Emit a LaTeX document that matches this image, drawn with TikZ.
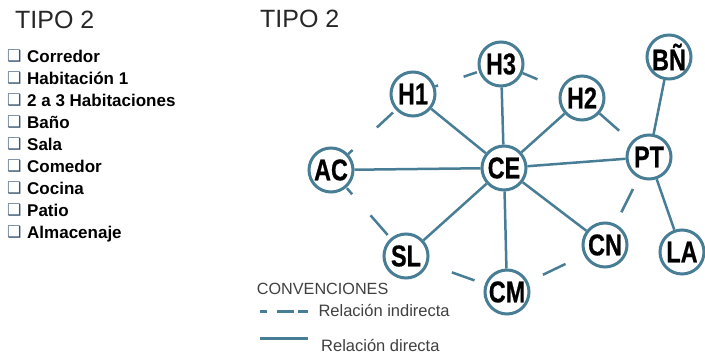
\documentclass[tikz,border=0pt]{standalone}
\usepackage{fontspec}
\setmainfont{Liberation Sans}
\newfontfamily\nodefont{Liberation Sans}[FakeStretch=0.78, FakeBold=0.6]
\newfontfamily\symfont{DejaVu Sans}
\definecolor{edgeblue}{RGB}{72,125,150}
\definecolor{boxblue}{RGB}{60,88,115}
\definecolor{legtext}{RGB}{64,64,64}
\begin{document}
\begin{tikzpicture}[x=1pt,y=-1pt,
  room/.style={circle, draw=edgeblue, line width=3pt, fill=white, minimum size=44pt, inner sep=0pt,
    font=\nodefont\bfseries\fontsize{30}{30}\selectfont, text=black},
  direct/.style={draw=edgeblue, line width=2.5pt},
  indirect/.style={draw=edgeblue, line width=2.5pt},
  item/.style={anchor=base west, inner sep=0pt, font=\bfseries\fontsize{17}{17}\selectfont, text=black},
  tickbox/.style={anchor=base west, inner sep=0pt, font=\symfont\fontsize{16}{16}\selectfont, text=boxblue},
  titletext/.style={anchor=base west, inner sep=0pt, font=\fontsize{25}{25}\selectfont, text=black!85},
  legendtext/.style={anchor=base west, inner sep=0pt, font=\fontsize{16.5}{16.5}\selectfont, text=legtext}]
\useasboundingbox (0,0) rectangle (705,358);

% titles
\node[titletext] (t1) at (15,28.3) {TIPO 2};
\node[titletext] (t2) at (260,28) {TIPO 2};

% list
\foreach \txt [count=\i from 0] in {Corredor, Habitación 1, 2 a 3 Habitaciones, Baño, Sala, Comedor, Cocina, Patio, Almacenaje}{
  \node[tickbox] (b\i) at (7,62+22*\i) {❑};
  \node[item] (l\i) at (27,63+22*\i) {\txt};
}

% rooms
\node[room] (AC) at (331,170) {AC};
\node[room] (H1) at (413,94) {H1};
\node[room] (H3) at (501,64) {H3};
\node[room] (H2) at (582,98) {H2};
\node[room] (BN) at (669,57) {BÑ};
\node[room] (PT) at (649,157) {PT};
\node[room] (CE) at (504,168) {CE};
\node[room] (SL) at (406,256) {SL};
\node[room] (CM) at (507,292) {CM};
\node[room] (CN) at (605,245) {CN};
\node[room] (LA) at (682,252) {LA};

% direct relations
\draw[direct] (CE) -- (AC);
\draw[direct] (CE) -- (H1);
\draw[direct] (CE) -- (H3);
\draw[direct] (CE) -- (H2);
\draw[direct] (CE) -- (PT);
\draw[direct] (CE) -- (SL);
\draw[direct] (CE) -- (CM);
\draw[direct] (CE) -- (CN);
\draw[direct] (PT) -- (BN);
\draw[direct] (PT) -- (LA);

% indirect relations
\draw[indirect, dash pattern=on 6pt off 33pt on 22pt off 100pt] (AC) -- (H1);
\draw[indirect, dash pattern=on 3pt off 27pt on 14pt off 100pt] (H1) -- (H3);
\draw[indirect, dash pattern=on 16pt off 100pt] (H3) -- (H2);
\draw[indirect, dash pattern=on 26pt off 100pt] (H2) -- (PT);
\draw[indirect, dash pattern=on 26pt off 100pt, dash phase=113.7pt] (PT) -- (CN);
\draw[indirect, dash pattern=on 25pt off 100pt, dash phase=104.7pt] (CN) -- (CM);
\draw[indirect, dash pattern=on 24pt off 100pt, dash phase=113pt] (CM) -- (SL);
\draw[indirect, dash pattern=on 26pt off 28pt on 8pt off 100pt, dash phase=157.6pt] (SL) -- (AC);

% legend
\node[legendtext, font=\fontsize{16.2}{16.2}\selectfont] (conv) at (256.7,295) {CONVENCIONES};
\coordinate (ld1) at (260,311.7);
\coordinate (ld2) at (308,311.7);
\draw[indirect, dash pattern=on 7pt off 10pt on 17pt off 4pt on 10pt off 10pt] (ld1) -- (ld2);
\node[legendtext] (lind) at (318.3,316.7) {Relación indirecta};
\coordinate (ls1) at (260,338.3);
\coordinate (ls2) at (308,338.3);
\draw[direct] (ls1) -- (ls2);
\node[legendtext] (ldir) at (321,351.7) {Relación directa};
\end{tikzpicture}
\end{document}
